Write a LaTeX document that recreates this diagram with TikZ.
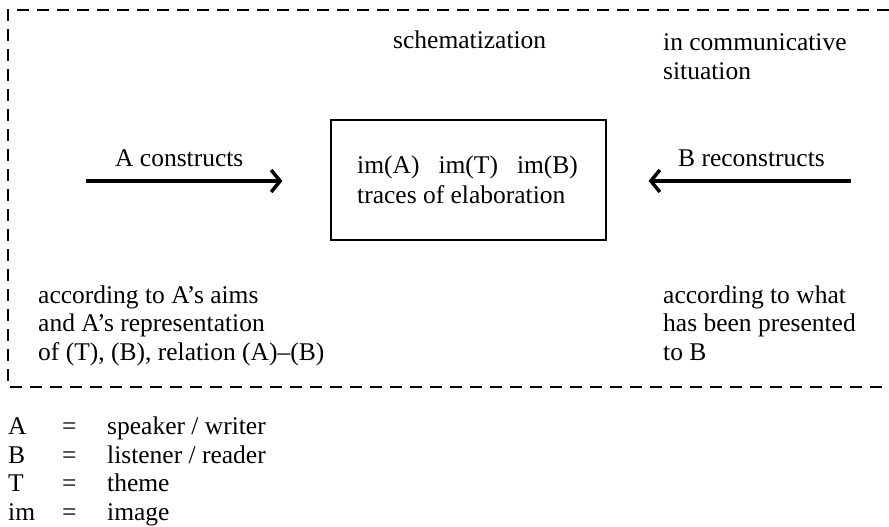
\documentclass[tikz,border=0pt]{standalone}
\usepackage{fontspec}
\setmainfont{Liberation Serif}
\usetikzlibrary{arrows.meta}

\tikzset{
  txt/.style={inner sep=0pt,anchor=base west,align=left,
    font=\fontsize{25.5}{28.5}\selectfont},
  actarrow/.style={line width=4pt,-{Straight Barb[length=9pt,width=22pt,line width=3.5pt]}},
  frame/.style={line width=2pt,dash pattern=on 12pt off 8pt}
}

\begin{document}
\begin{tikzpicture}[x=1pt,y=-1pt]%
  \path[use as bounding box] (0,0) rectangle (889,527);
  % open dashed frame
  \coordinate (F1) at (889,10); \coordinate (F2) at (8,10);
  \coordinate (F3) at (8,387);  \coordinate (F4) at (889,387);
  \draw[frame] (F1) -- (F2) -- (F3) -- (F4);
  % central box (multi-line nodes sit on their last baseline)
  \node[draw,line width=1.2pt,minimum width=275pt,minimum height=120pt,
        inner sep=0pt] (images) at (468.5,180) {};
  \node[txt,font=\fontsize{25.5}{30}\selectfont] (imgtext) at (357,203)
    {im(A)\hspace{19pt}im(T)\hspace{19pt}im(B)\\traces of elaboration};
  % heading texts
  \node[txt] (schema) at (393,49) {schematization};
  \node[txt] (situation) at (663,79) {in communicative\\situation};
  % arrows
  \coordinate (Astart) at (86,181);
  \coordinate (Aend) at ([xshift=-48pt]images.west |- Astart);
  \draw[actarrow] (Astart) -- (Aend);
  \coordinate (Bstart) at (851,181);
  \coordinate (Bend) at ([xshift=42pt]images.east |- Bstart);
  \draw[actarrow] (Bstart) -- (Bend);
  \node[txt] (constructs) at (115,166) {A constructs};
  \node[txt] (reconstructs) at (678,166) {B reconstructs};
  % lower texts
  \node[txt] (aims) at (38,360)
    {according to A’s aims\\and A’s representation\\of (T), (B), relation (A)–(B)};
  \node[txt] (presented) at (663,360)
    {according to what\\has been presented\\to B};
  % legend
  \foreach \sym/\expl [count=\i] in {A/{speaker / writer},B/{listener / reader},
                                     T/theme,im/image} {
    \node[txt] (sym\i) at (8,406+28.5*\i) {\sym};
    \node[txt] (eq\i) at (62,406+28.5*\i) {=};
    \node[txt] (expl\i) at (107,406+28.5*\i) {\expl};
  }
\end{tikzpicture}
\end{document}
